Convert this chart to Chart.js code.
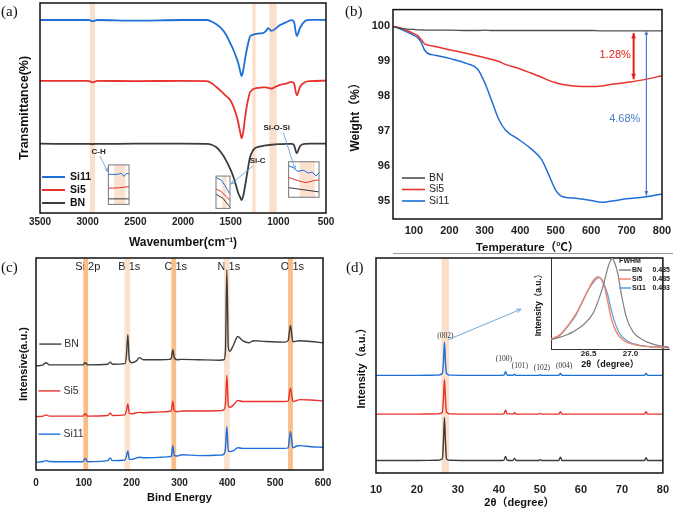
<!DOCTYPE html>
<html>
<head>
<meta charset="utf-8">
<script src="https://cdn.jsdelivr.net/npm/chart.js@4.4.1/dist/chart.umd.min.js"></script>
<style>
  body { margin: 0; background: #fff; width: 679px; height: 510px; position: relative; overflow: hidden; }
  canvas { position: absolute; }
  .tag { position: absolute; font: 15px "Liberation Serif", "Times New Roman", serif; color: #111; line-height: 1; }
  .rule { position: absolute; left: 393px; top: 253px; width: 280px; height: 1px; background: #999; }
</style>
</head>
<body>
<canvas id="ftirChart"></canvas>
<canvas id="tgaChart"></canvas>
<canvas id="xpsChart"></canvas>
<canvas id="xrdChart"></canvas>
<canvas id="xrdInset"></canvas>
<div class="tag" style="left:1px;top:4px">(a)</div>
<div class="tag" style="left:345px;top:4px">(b)</div>
<div class="tag" style="left:1px;top:260px">(c)</div>
<div class="tag" style="left:346px;top:260px">(d)</div>
<div class="rule"></div>
<script>
// (a) FTIR
const ftirWn = [3500, 3000, 2975, 2950, 2925, 2900, 2500, 2000, 1750, 1700,
                1650, 1600, 1550, 1500, 1470, 1440, 1420, 1400, 1385, 1370,
                1350, 1330, 1310, 1297, 1270, 1245, 1200, 1161, 1130, 1108,
                1070, 1035, 982, 920, 860, 836, 807, 773, 720, 668, 500];
const ftirSi11 = [91.9, 91.9, 91.8, 91.3, 91.6, 91.9, 91.6, 91.9, 91.9, 91.2,
                  89.9, 88.0, 85.0, 80.5, 77.5, 74.0, 71.3, 67.5, 65.2, 67.5,
                  73.0, 78.0, 82.0, 84.0, 84.8, 85.2, 85.5, 85.7, 86.6, 88.0,
                  86.7, 87.6, 89.5, 90.8, 91.8, 91.0, 84.3, 88.1, 91.4, 92.0, 92.0];
const ftirSi5 = [62.9, 62.9, 62.7, 62.2, 62.5, 62.9, 62.8, 62.9, 62.8, 61.8,
                 60.0, 58.0, 55.8, 53.5, 50.5, 46.5, 43.0, 38.5, 35.6, 38.0,
                 45.0, 51.0, 55.5, 57.5, 58.8, 59.3, 59.6, 59.8, 59.8, 59.6,
                 59.2, 60.0, 61.0, 61.6, 62.4, 61.8, 56.0, 60.0, 62.3, 62.8, 63.0];
const ftirBN = [33.0, 32.9, 32.9, 32.8, 32.9, 32.9, 33.0, 33.0, 32.9, 32.5,
                31.3, 28.8, 25.2, 20.5, 17.0, 12.5, 9.4, 7.5, 6.2, 7.8,
                12.5, 18.0, 23.5, 26.5, 29.5, 30.8, 31.6, 32.0, 32.2, 32.3,
                32.5, 32.7, 32.8, 32.9, 32.9, 32.4, 28.5, 31.8, 32.9, 33.0, 33.0];
const ftirTicks = [3500, 3000, 2500, 2000, 1500, 1000, 500];
const ftirBands = [[2976, 2923], [1273, 1238], [1094, 1017]];

// (b) TGA
const tgaTemp = [40, 60, 80, 100, 110, 120, 130, 140, 160, 200,
                 250, 280, 300, 320, 340, 360, 390, 430, 460, 480,
                 500, 520, 550, 600, 630, 650, 700, 750, 800];
const tgaBN = [100, 99.95, 99.92, 99.91, 99.9, 99.9, 99.89, 99.89, 99.89, 99.89,
               99.88, 99.88, 99.89, 99.88, 99.88, 99.88, 99.88, 99.88, 99.88, 99.88,
               99.88, 99.88, 99.88, 99.88, 99.87, 99.87, 99.87, 99.87, 99.87];
const tgaSi5 = [100, 99.96, 99.88, 99.79, 99.74, 99.62, 99.50, 99.46, 99.42, 99.33,
                99.22, 99.15, 99.10, 99.05, 98.99, 98.90, 98.81, 98.66, 98.54, 98.45,
                98.38, 98.33, 98.29, 98.27, 98.29, 98.32, 98.39, 98.47, 98.58];
const tgaSi11 = [100, 99.93, 99.84, 99.74, 99.68, 99.55, 99.32, 99.22, 99.17, 99.08,
                 98.93, 98.77, 98.38, 97.85, 97.32, 97.00, 96.79, 96.49, 96.18, 95.75,
                 95.30, 95.11, 95.07, 95.00, 94.95, 94.97, 95.05, 95.10, 95.19];
const tgaTempTicks = [100, 200, 300, 400, 500, 600, 700, 800];
const tgaWeightTicks = [95, 96, 97, 98, 99, 100];

// (c) XPS
const xpsEnergy = [0, 15, 21, 28, 60, 98, 103, 108, 150, 155,
                   160, 186, 189, 192, 195, 200, 210, 216, 225, 260,
                   280, 283, 286, 289, 295, 305, 340, 385, 393, 396,
                   399, 402, 405, 412, 422, 432, 445, 455, 480, 520,
                   527, 532, 537, 545, 552, 575, 600];
const xpsBN = [49.1, 49.6, 50.6, 49.6, 49.6, 49.6, 50.6, 49.6, 49.9, 50.9,
               49.9, 50.2, 54.0, 63.8, 52.0, 50.6, 51.5, 53.0, 52.0, 52.0,
               52.2, 52.8, 56.7, 53.0, 52.0, 52.2, 52.0, 51.8, 52.0, 56.0,
               94.5, 58.0, 56.0, 58.5, 63.0, 61.0, 60.0, 61.0, 60.6, 60.3,
               61.0, 68.2, 60.5, 60.8, 61.0, 60.6, 60.0];
const xpsSi5 = [25.2, 25.4, 26.0, 25.4, 25.4, 25.4, 26.5, 25.4, 25.7, 26.8,
                25.7, 26.0, 28.0, 31.2, 26.8, 26.5, 27.0, 27.2, 27.0, 27.4,
                27.7, 28.2, 32.3, 28.0, 27.5, 27.8, 27.8, 28.0, 28.5, 31.0,
                44.6, 30.5, 29.5, 30.5, 32.8, 32.3, 32.3, 32.3, 32.3, 32.3,
                32.5, 38.6, 32.3, 32.8, 33.2, 33.0, 32.6];
const xpsSi11 = [3.6, 4.0, 4.4, 4.0, 3.9, 3.9, 5.5, 3.9, 4.4, 5.7,
                 4.4, 4.7, 6.5, 9.0, 5.0, 5.0, 5.7, 6.0, 5.8, 6.0,
                 6.3, 6.6, 11.5, 6.8, 6.6, 7.2, 6.8, 7.0, 7.5, 10.0,
                 20.5, 9.0, 8.7, 9.0, 10.5, 10.2, 10.2, 10.2, 10.2, 10.2,
                 10.5, 18.1, 10.5, 11.3, 11.5, 11.0, 10.7];
const xpsTicks = [0, 100, 200, 300, 400, 500, 600];
const xpsPeakNames = ['Si 2p', 'B 1s', 'C 1s', 'N 1s', 'O 1s'];
const xpsPeakBands = [[99, 109], [185, 197], [283, 293], [393, 405], [527, 537]];
const xpsPeakStrong = [true, false, true, false, true];

// (d) XRD
const xrdTheta = [10, 20, 25, 26.2, 26.45, 26.7, 26.95, 27.2, 28, 35,
                  40, 41.2, 41.6, 42.0, 43.4, 43.8, 44.2, 49.7, 50.1, 50.5,
                  54.6, 55.0, 55.4, 60, 70, 75.5, 75.9, 76.3, 80];
const xrdSi11 = [45.4, 45.4, 45.5, 46.3, 51.5, 60.8, 51.5, 46.3, 45.5, 45.4,
                 45.4, 45.5, 47.1, 45.6, 45.4, 46.0, 45.4, 45.4, 45.7, 45.4,
                 45.4, 46.3, 45.4, 45.4, 45.4, 45.4, 46.3, 45.4, 45.4];
const xrdSi5 = [27.4, 27.4, 27.5, 28.3, 34.5, 43.5, 34.5, 28.3, 27.5, 27.4,
                27.4, 27.5, 29.2, 27.6, 27.4, 28.0, 27.4, 27.4, 27.7, 27.4,
                27.4, 28.5, 27.4, 27.4, 27.4, 27.4, 28.5, 27.4, 27.4];
const xrdBN = [5.8, 5.8, 5.9, 6.6, 14.5, 25.8, 14.5, 6.6, 5.9, 5.8,
               5.8, 5.9, 7.7, 5.9, 5.8, 6.8, 5.8, 5.8, 6.2, 5.8,
               5.8, 7.4, 5.8, 5.8, 5.8, 5.8, 7.1, 5.8, 5.8];
const xrdTicks = [10, 20, 30, 40, 50, 60, 70, 80];
const xrdPlanes = ['(002)', '(100)', '(101)', '(102)', '(004)'];
const xrdPlaneTheta = [26.9, 41.2, 45.1, 50.5, 55.9];

// (d) inset: (002) peak
const insetBNX = [26.04, 26.15, 26.25, 26.31, 26.43, 26.55, 26.63, 26.69, 26.73, 26.76,
                  26.78, 26.81, 26.85, 26.89, 26.95, 27.03, 27.15, 27.31, 27.46];
const insetBNY = [9.8, 12.7, 16.0, 18.8, 26.0, 38.8, 56.9, 75.0, 89.5, 96.7,
                  99.6, 95.0, 82.0, 60.5, 35.0, 18.8, 9.8, 4.3, 1.8];
const insetSi5X = [26.04, 26.15, 26.27, 26.35, 26.43, 26.51, 26.57, 26.61, 26.65, 26.69,
                   26.73, 26.77, 26.83, 26.91, 27.07, 27.46];
const insetSi5Y = [10.5, 15.2, 27.9, 38.8, 53.3, 67.8, 76.8, 79.3, 76.8, 67.8,
                   51.4, 33.3, 18.8, 9.8, 4.3, 1.4];
const insetSi11X = [26.04, 26.15, 26.27, 26.35, 26.43, 26.51, 26.57, 26.62, 26.66, 26.69,
                    26.73, 26.77, 26.81, 26.87, 26.97, 27.13, 27.46];
const insetSi11Y = [10.5, 14.5, 27.0, 37.5, 52.5, 67.0, 74.6, 78.3, 76.0, 70.0,
                    59.0, 43.0, 30.0, 17.0, 8.5, 3.8, 1.4];
const insetTicks = [26.5, 27.0];
const fwhmNames = ['BN', 'Si5', 'Si11'];
const fwhmValues = ['0.435', '0.485', '0.493'];

// ---------- 共通 ----------
const FONT = '"Liberation Sans", "Noto Sans CJK SC", Arial, sans-serif';
const BLUE = '#1f6fd8';
const RED = '#e8332c';
const DARK = '#3c3c3c';
const BAND = 'rgba(247, 196, 160, 0.55)';

Chart.defaults.font.family = FONT;
Chart.defaults.color = '#111';
Chart.defaults.animation = false;
Chart.defaults.plugins.legend.display = false;
Chart.defaults.plugins.tooltip.enabled = false;

function place(id, x, y, w, h) {
    const c = document.getElementById(id);
    c.style.left = x + 'px';
    c.style.top = y + 'px';
    c.width = w;
    c.height = h;
    return c;
}

function series(label, xs, ys, color, width) {
    return {
        label: label,
        data: xs.map((x, i) => ({ x: x, y: ys[i] })),
        borderColor: color,
        borderWidth: width || 1.5,
        pointRadius: 0,
        fill: false,
        cubicInterpolationMode: 'monotone'
    };
}

function fixedTicks(list) {
    return s => { s.ticks = list.map(v => ({ value: v })); };
}

function xAxis(min, max, ticks, height, pad, fontSize, title, titleSize, titlePad, reverse, fmt) {
    return {
        type: 'linear', min: min, max: max, reverse: !!reverse,
        afterBuildTicks: fixedTicks(ticks),
        afterFit: s => { s.height = height; },
        grid: { display: false, drawTicks: false },
        border: { display: false },
        ticks: { padding: pad, autoSkip: false, maxRotation: 0, color: '#222',
                 font: { size: fontSize, weight: 'bold' },
                 callback: fmt || (v => String(v)) },
        title: { display: true, text: title, color: '#111',
                 font: { size: titleSize, weight: 'bold' }, padding: { top: 0, bottom: titlePad } }
    };
}

function yAxis(min, max, width, title, titleSize, titlePad, ticks, fontSize) {
    return {
        type: 'linear', min: min, max: max,
        afterBuildTicks: ticks ? fixedTicks(ticks) : undefined,
        afterFit: s => { s.width = width; },
        grid: { display: false, drawTicks: false },
        border: { display: false },
        ticks: ticks ? { padding: 3, color: '#222', font: { size: fontSize, weight: 'bold' },
                         callback: v => String(v) } : { display: false },
        title: { display: true, text: title, color: '#111',
                 font: { size: titleSize, weight: 'bold' }, padding: { top: titlePad, bottom: 0 } }
    };
}

function drawBands(ctx, c, ranges, colors) {
    const a = c.chartArea, xs = c.scales.x;
    ctx.save();
    ranges.forEach((r, i) => {
        const p0 = xs.getPixelForValue(r[0]), p1 = xs.getPixelForValue(r[1]);
        ctx.fillStyle = Array.isArray(colors) ? colors[i] : colors;
        ctx.fillRect(Math.min(p0, p1), a.top, Math.abs(p1 - p0), a.bottom - a.top);
    });
    ctx.restore();
}

function drawFrame(ctx, c) {
    const a = c.chartArea;
    ctx.save();
    ctx.strokeStyle = '#111';
    ctx.lineWidth = 1.5;
    ctx.strokeRect(a.left, a.top, a.right - a.left, a.bottom - a.top);
    ctx.restore();
}

function label(ctx, str, x, y, font, color, align) {
    ctx.save();
    ctx.font = font;
    ctx.fillStyle = color || '#111';
    ctx.textAlign = align || 'center';
    ctx.textBaseline = 'middle';
    ctx.fillText(str, x, y);
    ctx.restore();
}

function head(ctx, x0, y0, x1, y1, size, filled) {
    const ang = Math.atan2(y1 - y0, x1 - x0);
    ctx.beginPath();
    ctx.moveTo(x1 - size * Math.cos(ang - 0.4), y1 - size * Math.sin(ang - 0.4));
    ctx.lineTo(x1, y1);
    ctx.lineTo(x1 - size * Math.cos(ang + 0.4), y1 - size * Math.sin(ang + 0.4));
    if (filled) { ctx.closePath(); ctx.fill(); } else { ctx.stroke(); }
}

function arrow(ctx, x0, y0, x1, y1, color, width, size, both, filled) {
    ctx.save();
    ctx.strokeStyle = color;
    ctx.fillStyle = color;
    ctx.lineWidth = width;
    ctx.beginPath();
    ctx.moveTo(x0, y0);
    ctx.lineTo(x1, y1);
    ctx.stroke();
    head(ctx, x0, y0, x1, y1, size, filled);
    if (both) head(ctx, x1, y1, x0, y0, size, filled);
    ctx.restore();
}

// ラベル付きの短い線（凡例代わり）
function keyRows(ctx, rows, x, ys, len, gap, font, textColor, lw) {
    rows.forEach((r, i) => {
        ctx.save();
        ctx.strokeStyle = r.color;
        ctx.lineWidth = lw || 2;
        ctx.beginPath();
        ctx.moveTo(x, ys[i]);
        ctx.lineTo(x + len, ys[i]);
        ctx.stroke();
        ctx.restore();
        label(ctx, r.text, x + len + gap, ys[i], font, textColor || '#111', 'left');
    });
}

// ---------- (a) FTIR ----------
// 拡大図の枠（データ座標）と中の模式線（枠内の相対座標）
const ftirZooms = [
    { box: [2783, 2566, 22.9, 4.1], band: [0.28, 0.83],
      traces: [[[0, 0.24], [0.45, 0.24], [0.62, 0.21], [0.75, 0.29], [0.87, 0.22], [1, 0.23]],
               [[0, 0.59], [0.5, 0.58], [1, 0.55]],
               [[0, 0.86], [1, 0.86]]] },
    { box: [1654, 1507, 17.6, 2.2], band: [0.45, 0.75],
      traces: [[[0, 0.05], [0.37, 0.12], [0.5, 0.2], [0.62, 0.28], [0.8, 0.41], [0.95, 0.54]],
               [[0, 0.40], [0.37, 0.48], [0.75, 0.64], [1, 0.76]],
               [[0, 0.56], [0.5, 0.69], [0.88, 0.9], [1, 0.97]]] },
    { box: [892, 573, 24.4, 7.5], band: [0.36, 0.86],
      traces: [[[0, 0.11], [0.16, 0.17], [0.3, 0.27], [0.5, 0.24], [0.64, 0.32], [0.77, 0.29], [0.9, 0.4], [1, 0.3]],
               [[0, 0.44], [0.3, 0.53], [0.57, 0.59], [0.84, 0.53], [1, 0.51]],
               [[0, 0.73], [1, 0.85]]] }
];
const ftirNotes = [
    { text: 'C-H', at: [2885, 29.2], from: [2871, 27.1], to: [2790, 19.7] },
    { text: 'Si-C', at: [1217, 24.9], from: [1262, 22.5], to: [1496, 13.8] },
    { text: 'Si-O-Si', at: [1017, 40.8], from: [948, 38.4], to: [825, 20.8] }
];

place('ftirChart', 0, 0, 340, 255);
new Chart('ftirChart', {
    type: 'line',
    data: { datasets: [
        series('Si11', ftirWn, ftirSi11, BLUE, 1.8),
        series('Si5', ftirWn, ftirSi5, RED, 1.8),
        series('BN', ftirWn, ftirBN, DARK, 1.8)
    ] },
    options: {
        responsive: false, devicePixelRatio: 1,
        layout: { padding: { top: 3, right: 14, left: 0, bottom: 0 } },
        scales: {
            x: xAxis(500, 3500, ftirTicks, 42, 3, 10, 'Wavenumber(cm⁻¹)', 12, 5, true),
            y: yAxis(0, 100, 40, 'Transmittance(%)', 12.5, 17)
        }
    },
    plugins: [{
        id: 'ftirDecor',
        beforeDatasetsDraw(c) { drawBands(c.ctx, c, ftirBands, BAND); },
        afterDatasetsDraw(c) {
            const ctx = c.ctx, xs = c.scales.x, ys = c.scales.y;
            const colors = [BLUE, RED, DARK];
            ftirZooms.forEach(z => {
                const l = xs.getPixelForValue(z.box[0]), r = xs.getPixelForValue(z.box[1]);
                const t = ys.getPixelForValue(z.box[2]), b = ys.getPixelForValue(z.box[3]);
                const w = r - l, h = b - t;
                ctx.save();
                ctx.fillStyle = '#fff';
                ctx.fillRect(l, t, w, h);
                ctx.fillStyle = 'rgba(247, 196, 160, 0.5)';
                ctx.fillRect(l + z.band[0] * w, t, (z.band[1] - z.band[0]) * w, h);
                z.traces.forEach((tr, i) => {
                    ctx.strokeStyle = colors[i];
                    ctx.lineWidth = 1;
                    ctx.beginPath();
                    tr.forEach((p, j) => {
                        const px = l + p[0] * w, py = t + p[1] * h;
                        if (j === 0) ctx.moveTo(px, py); else ctx.lineTo(px, py);
                    });
                    ctx.stroke();
                });
                ctx.strokeStyle = '#777';
                ctx.lineWidth = 1;
                ctx.strokeRect(l, t, w, h);
                ctx.restore();
            });
            ftirNotes.forEach(n => {
                label(ctx, n.text, xs.getPixelForValue(n.at[0]), ys.getPixelForValue(n.at[1]),
                      'bold 8px ' + FONT, '#222');
                arrow(ctx, xs.getPixelForValue(n.from[0]), ys.getPixelForValue(n.from[1]),
                      xs.getPixelForValue(n.to[0]), ys.getPixelForValue(n.to[1]), '#5b9bd5', 0.8, 4, false, false);
            });
            keyRows(ctx, c.data.datasets.map(d => ({ text: d.label, color: d.borderColor })),
                    42, [177, 190, 203], 23, 5, 'bold 10.5px ' + FONT, '#111', 2);
            drawFrame(ctx, c);
        }
    }]
});

// ---------- (b) TGA ----------
place('tgaChart', 340, 0, 339, 255);
new Chart('tgaChart', {
    type: 'line',
    data: { datasets: [
        series('BN', tgaTemp, tgaBN, '#505050', 1.3),
        series('Si5', tgaTemp, tgaSi5, RED, 1.5),
        series('Si11', tgaTemp, tgaSi11, BLUE, 1.5)
    ] },
    options: {
        responsive: false, devicePixelRatio: 1,
        layout: { padding: { top: 3, right: 17, left: 0, bottom: 0 } },
        scales: {
            x: xAxis(41, 800, tgaTempTicks, 36, 5, 11, 'Temperature（℃）', 11.5, 0),
            y: yAxis(94.47, 100.48, 53, 'Weight（%）', 12, 8, tgaWeightTicks, 11)
        }
    },
    plugins: [{
        id: 'tgaDecor',
        afterDatasetsDraw(c) {
            const ctx = c.ctx, xs = c.scales.x, ys = c.scales.y;
            const xr = xs.getPixelForValue(720), xb = xs.getPixelForValue(756);
            arrow(ctx, xr, ys.getPixelForValue(99.81), xr, ys.getPixelForValue(98.48), '#e8201c', 2, 6, true, true);
            arrow(ctx, xb, ys.getPixelForValue(99.88), xb, ys.getPixelForValue(95.14), '#4a7cc9', 1.2, 5, true, true);
            label(ctx, '1.28%', xs.getPixelForValue(668), ys.getPixelForValue(99.18), '11px ' + FONT, '#e8201c');
            label(ctx, '4.68%', xs.getPixelForValue(695), ys.getPixelForValue(97.34), '11px ' + FONT, '#4a7cc9');
            keyRows(ctx, c.data.datasets.map(d => ({ text: d.label, color: d.borderColor })),
                    62, [178, 189.5, 201], 23, 4, '10.5px ' + FONT, '#222', 1.6);
            drawFrame(ctx, c);
        }
    }]
});

// ---------- (c) XPS ----------
place('xpsChart', 0, 255, 340, 255);
new Chart('xpsChart', {
    type: 'line',
    data: { datasets: [
        series('BN', xpsEnergy, xpsBN, DARK, 1.4),
        series('Si5', xpsEnergy, xpsSi5, RED, 1.4),
        series('Si11', xpsEnergy, xpsSi11, BLUE, 1.4)
    ] },
    options: {
        responsive: false, devicePixelRatio: 1,
        layout: { padding: { top: 3, right: 17, left: 0, bottom: 0 } },
        scales: {
            x: xAxis(0, 600, xpsTicks, 40, 7, 10, 'Bind Energy', 11, 5),
            y: yAxis(0, 100, 36, 'Intensive(a.u.)', 11, 17)
        }
    },
    plugins: [{
        id: 'xpsDecor',
        beforeDatasetsDraw(c) {
            const ctx = c.ctx, xs = c.scales.x;
            xpsPeakNames.forEach((n, i) => {
                const mid = (xpsPeakBands[i][0] + xpsPeakBands[i][1]) / 2;
                label(ctx, n, xs.getPixelForValue(mid) + 2, 12, '11px ' + FONT, '#222');
            });
            drawBands(ctx, c, xpsPeakBands,
                      xpsPeakStrong.map(s => s ? 'rgba(248, 178, 118, 0.85)' : 'rgba(250, 214, 186, 0.7)'));
        },
        afterDatasetsDraw(c) {
            const ctx = c.ctx, xs = c.scales.x, ys = c.scales.y;
            const rowY = [59.4, 37.3, 16.9].map(v => ys.getPixelForValue(v));
            c.data.datasets.forEach((d, i) => {
                const x0 = xs.getPixelForValue(i === 0 ? 7 : 5);
                keyRows(ctx, [{ text: d.label, color: d.borderColor }], x0, [rowY[i]], 22, 3,
                        '10.5px ' + FONT, '#333', 1.4);
            });
            drawFrame(ctx, c);
        }
    }]
});

// ---------- (d) XRD ----------
place('xrdChart', 340, 255, 339, 255);
new Chart('xrdChart', {
    type: 'line',
    data: { datasets: [
        series('Si11', xrdTheta, xrdSi11, BLUE, 1.4),
        series('Si5', xrdTheta, xrdSi5, RED, 1.4),
        series('BN', xrdTheta, xrdBN, DARK, 1.4)
    ] },
    options: {
        responsive: false, devicePixelRatio: 1,
        layout: { padding: { top: 3, right: 8, left: 0, bottom: 0 } },
        scales: {
            x: xAxis(10, 80, xrdTicks, 37, 10, 11, '2θ（degree）', 11, 0),
            y: yAxis(0, 100, 36, 'Intensity（a.u.）', 11, 15)
        }
    },
    plugins: [{
        id: 'xrdDecor',
        beforeDatasetsDraw(c) { drawBands(c.ctx, c, [[26.0, 27.8]], BAND); },
        afterDatasetsDraw(c) {
            const ctx = c.ctx, xs = c.scales.x, ys = c.scales.y;
            const planeY = [63.8, 52.8, 49.7, 48.9, 49.7];
            xrdPlanes.forEach((p, i) => {
                label(ctx, p, xs.getPixelForValue(xrdPlaneTheta[i]), ys.getPixelForValue(planeY[i]),
                      '7.5px "Liberation Serif", serif', '#333');
            });
            arrow(ctx, xs.getPixelForValue(27.6), ys.getPixelForValue(62), xs.getPixelForValue(45.4),
                  ys.getPixelForValue(76.2), '#6fa8dc', 1, 5, false, false);
            drawFrame(ctx, c);
        }
    }]
});

// ---------- (d) 挿入図 ----------
place('xrdInset', 530, 255, 149, 115);
new Chart('xrdInset', {
    type: 'line',
    data: { datasets: [
        series('BN', insetBNX, insetBNY, '#808080', 1.2),
        series('Si5', insetSi5X, insetSi5Y, '#f2836b', 1.4),
        series('Si11', insetSi11X, insetSi11Y, '#5b9bd5', 1.2)
    ] },
    options: {
        responsive: false, devicePixelRatio: 1,
        layout: { padding: { top: 2, right: 10, left: 0, bottom: 0 } },
        scales: {
            x: Object.assign(xAxis(26.05, 27.46, insetTicks, 21, 0, 8, '2θ（degree）', 9, 0, false,
                                   v => v.toFixed(1)), {
                border: { display: true, color: '#333', width: 1 }
            }),
            y: Object.assign(yAxis(0, 101, 21, 'Intensity（a.u.）', 8.5, 4), {
                border: { display: true, color: '#333', width: 1 }
            })
        }
    },
    plugins: [{
        id: 'insetDecor',
        afterDatasetsDraw(c) {
            const ctx = c.ctx, a = c.chartArea;
            const x0 = a.right - 50;
            const f = 'bold 7px ' + FONT;
            label(ctx, 'FWHM', x0 + 11, a.top + 4, f, '#222', 'center');
            c.data.datasets.forEach((d, i) => {
                const y = a.top + 13 + i * 9;
                keyRows(ctx, [{ text: fwhmNames[i], color: d.borderColor }], x0, [y], 12, 1, f, '#222', 1.5);
                label(ctx, fwhmValues[i], a.right + 1, y, f, '#222', 'right');
            });
        }
    }]
});
</script>
</body>
</html>
